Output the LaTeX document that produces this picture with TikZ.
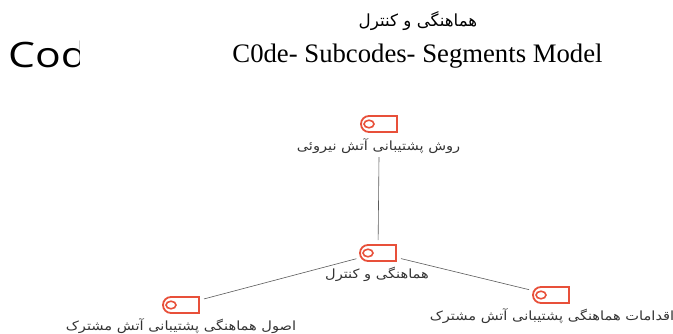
\documentclass[tikz,border=0pt]{standalone}
\usepackage{fontspec}
\setmainfont{Liberation Serif}
\newfontfamily\cutfont[FakeStretch=1.22]{Open Sans}
\newfontfamily\arabicfont[Script=Arabic]{DejaVu Sans}
\newfontfamily\arabicwide[Script=Arabic,FakeStretch=1.15]{DejaVu Sans}
\TeXXeTstate=1
\usetikzlibrary{shapes.misc,shapes.geometric}
\definecolor{tagred}{HTML}{E8503A}
\definecolor{linkgray}{HTML}{5A5A5A}
\definecolor{labelgray}{HTML}{333333}
\newcommand{\fa}[1]{\arabicfont\beginR #1\endR}
\newcommand{\fawide}[1]{\arabicwide\beginR #1\endR}

\begin{document}
\begin{tikzpicture}[x=1pt, y=-1pt,
  tagicon/.style = {rounded rectangle, rounded rectangle right arc=none, draw=tagred, line width=1.8pt, minimum width=36pt, minimum height=16pt, inner sep=0pt, outer sep=5pt},
  tagring/.style = {ellipse, draw=tagred, line width=1.6pt, minimum width=10pt, minimum height=7.5pt, inner sep=0pt},
  tagtext/.style = {text=labelgray, font=\fontsize{12.7}{15}\selectfont, inner sep=0pt},
  link/.style = {draw=linkgray, line width=0.6pt}]

\useasboundingbox (0,0) rectangle (673,333);

% Titles
\node[font=\fontsize{16.7}{19}\selectfont, inner sep=0pt] (subject) at (418,21) {\fa{هماهنگی و کنترل}};
\node[font=\fontsize{26.7}{30}\selectfont, inner sep=0pt] (title) at (417.5,56) {C0de- Subcodes- Segments Model};

% Cut off word
\begin{scope}
\clip (0,30) rectangle (79,80);
\node[font=\cutfont\fontsize{35}{40}\selectfont, anchor=base west, inner sep=0pt] (cut) at (8,67) {Code};
\end{scope}

% Tags
\node[tagicon] (top) at (379,124) {};
\node[tagicon] (mid) at (378,253) {};
\node[tagicon] (left) at (181,305) {};
\node[tagicon] (right) at (551,295) {};

\foreach \tag in {top,mid,left,right} {
  \node[tagring] (\tag ring) at ([xshift=-10pt]\tag.center) {};
}

% Labels
\node[tagtext] (toplabel) at (378.5,146.5) {\fawide{روش پشتیبانی آتش نیروئی}};
\node[tagtext] (midlabel) at (377,274.5) {\fawide{هماهنگی و کنترل}};
\node[tagtext] (leftlabel) at (181,326.5) {\fawide{اصول هماهنگی پشتیبانی آتش مشترک}};
\node[tagtext] (rightlabel) at (552,316.5) {\fawide{اقدامات هماهنگی پشتیبانی آتش مشترک}};

% Lines
\draw[link] (toplabel.south) ++(0.5,3) coordinate (topstart) -- (mid);
\draw[link] (mid) -- (left);
\draw[link] (mid) -- (right);

\end{tikzpicture}
\end{document}
